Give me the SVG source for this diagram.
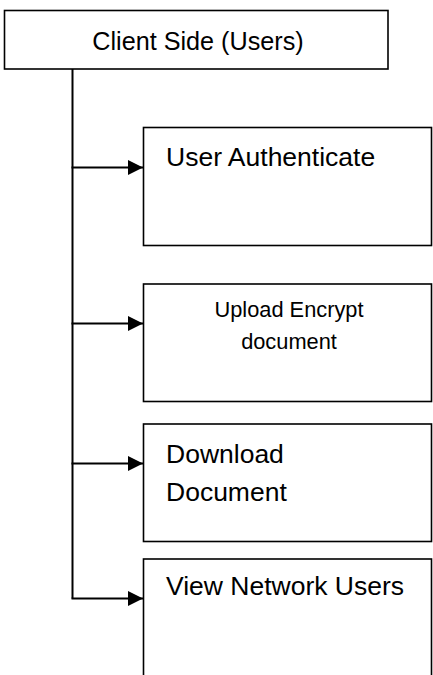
<svg xmlns="http://www.w3.org/2000/svg" width="433" height="675" viewBox="0 0 433 675">
  <style>
    .box { fill: #ffffff; stroke: #000000; stroke-width: 1.6; }
    .lbl { font-family: "Liberation Sans", Arial, sans-serif; fill: #000000; }
    .title { font-size: 25.2px; }
    .big { font-size: 26.5px; }
    .small { font-size: 21.8px; }
    .wire { fill: none; stroke: #000000; stroke-width: 2; }
  </style>
  <defs>
    <marker id="arrowhead" markerWidth="15" markerHeight="15" refX="15" refY="7.5" orient="auto" markerUnits="userSpaceOnUse">
      <path d="M0,0 L15,7.5 L0,15 Z" fill="#000000"/>
    </marker>
  </defs>
  <rect width="433" height="675" fill="#ffffff"/>

  <!-- root node -->
  <g id="client-side">
    <rect class="box" x="4.5" y="10.5" width="383.5" height="58.5"/>
    <text class="lbl title" x="198" y="50" text-anchor="middle">Client Side (Users)</text>
  </g>

  <!-- feature nodes -->
  <g id="user-authenticate">
    <rect class="box" x="143.5" y="127.5" width="288" height="118"/>
    <text class="lbl big" x="166" y="166">User Authenticate</text>
  </g>

  <g id="upload-encrypt">
    <rect class="box" x="143.5" y="284" width="288" height="117.5"/>
    <text class="lbl small" x="289" y="317" text-anchor="middle">Upload Encrypt</text>
    <text class="lbl small" x="289" y="349" text-anchor="middle">document</text>
  </g>

  <g id="download-document">
    <rect class="box" x="143.5" y="424" width="288" height="117.5"/>
    <text class="lbl big" x="166" y="463">Download</text>
    <text class="lbl big" x="166" y="500.5">Document</text>
  </g>

  <g id="view-network-users">
    <rect class="box" x="143.5" y="559" width="288" height="130"/>
    <text class="lbl big" x="166" y="595">View Network Users</text>
  </g>

  <!-- connectors -->
  <g id="connectors">
    <path class="wire" d="M72.5,69 V598.5"/>
    <path class="wire" d="M71.5,167.5 H143" marker-end="url(#arrowhead)"/>
    <path class="wire" d="M71.5,323.5 H143" marker-end="url(#arrowhead)"/>
    <path class="wire" d="M71.5,463.5 H143" marker-end="url(#arrowhead)"/>
    <path class="wire" d="M71.5,598.5 H143" marker-end="url(#arrowhead)"/>
  </g>
</svg>
